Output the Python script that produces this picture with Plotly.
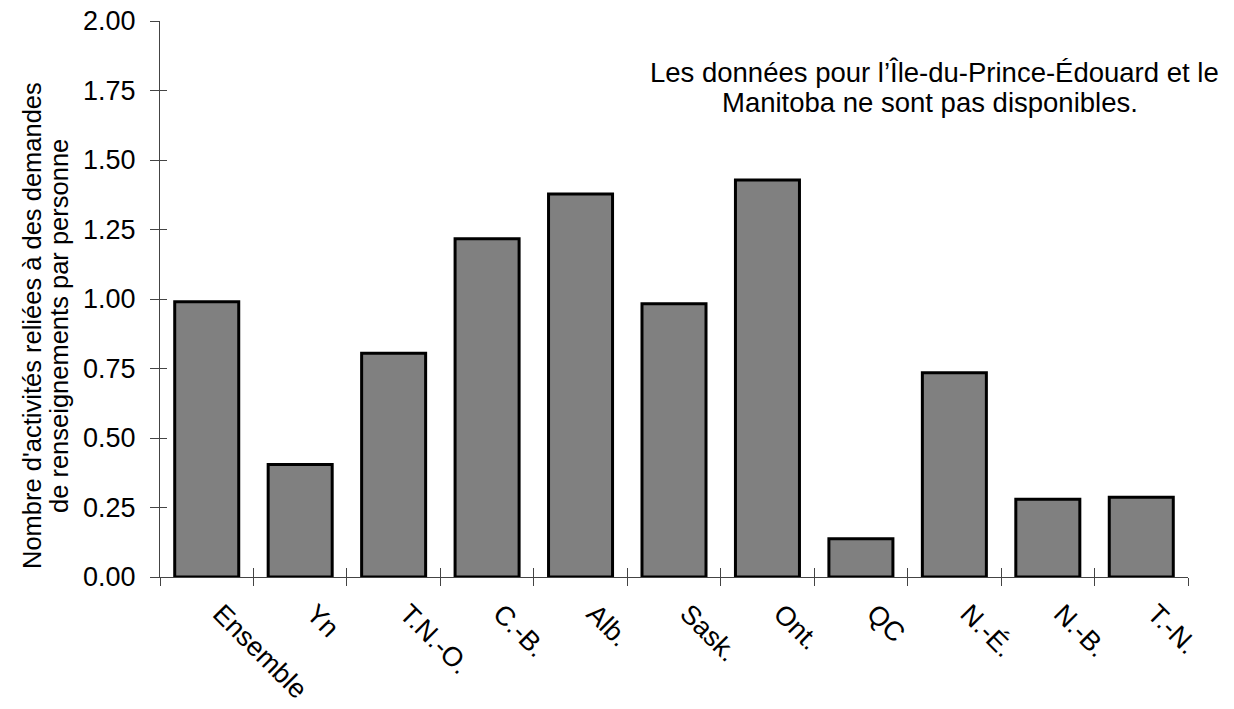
import plotly.graph_objects as go

categories = ["Ensemble", "Yn", "T.N.-O.", "C.-B.", "Alb.", "Sask.", "Ont.", "QC", "N.-É.", "N.-B.", "T.-N."]
values = [0.99, 0.405, 0.805, 1.217, 1.378, 0.983, 1.428, 0.138, 0.735, 0.28, 0.287]
y_ticks = [0, 0.25, 0.5, 0.75, 1.0, 1.25, 1.5, 1.75, 2.0]
y_tick_labels = ["0.00", "0.25", "0.50", "0.75", "1.00", "1.25", "1.50", "1.75", "2.00"]
y_title_lines = ["Nombre d'activités reliées à des demandes", "de renseignements par personne"]
note_lines = ["Les données pour l’Île-du-Prince-Édouard et le", "Manitoba ne sont pas disponibles."]

FONT = "Liberation Sans, Arial, sans-serif"
AXC = "#444444"

L, R, T, B = 160, 46, 21, 132
W, H = 1234, 709
PW, PH = W - L - R, H - T - B

fig = go.Figure()
fig.add_trace(go.Bar(
    x=categories, y=values,
    marker=dict(color="#808080", line=dict(color="black", width=3)),
    hoverinfo="x+y",
))
# invisible trace to carry the overlay axes (inner half of crossing ticks)
fig.add_trace(go.Scatter(x=[-0.5, 10.5], y=[0, 2], xaxis="x2", yaxis="y2",
                         mode="markers", marker=dict(opacity=0), hoverinfo="skip", showlegend=False))

fig.update_layout(
    width=W, height=H, autosize=False,
    margin=dict(l=L, r=R, t=T, b=B, autoexpand=False),
    plot_bgcolor="white", paper_bgcolor="white",
    showlegend=False,
    bargap=0.315,
    font=dict(family=FONT, color="black", size=26),
    xaxis=dict(
        type="category", range=[-0.5, 10.5], tickson="boundaries", automargin=False,
        showline=True, linecolor=AXC, linewidth=1,
        ticks="outside", ticklen=8, tickcolor=AXC, tickwidth=1,
        tickangle=45, tickfont=dict(size=27, family=FONT, color="black"),
        ticklabelshift=14, ticklabelstandoff=9, ticklabeloverflow="allow",
        showgrid=False, zeroline=False, fixedrange=True,
    ),
    yaxis=dict(
        range=[0, 2], tickvals=y_ticks, ticktext=y_tick_labels, automargin=False,
        showline=True, linecolor=AXC, linewidth=1,
        ticks="outside", ticklen=9, tickcolor=AXC, tickwidth=1,
        tickfont=dict(size=27, family=FONT, color="black"),
        ticklabelstandoff=9, ticklabeloverflow="allow",
        showgrid=False, zeroline=False, fixedrange=True,
    ),
    xaxis2=dict(
        overlaying="x", anchor="y2", range=[-0.5, 10.5], automargin=False,
        tickvals=[i - 0.5 for i in range(12)], showticklabels=False,
        ticks="inside", ticklen=9, tickcolor=AXC, tickwidth=1,
        showline=False, showgrid=False, zeroline=False, fixedrange=True,
    ),
    yaxis2=dict(
        overlaying="y", anchor="x2", range=[0, 2.0001], automargin=False,
        tickvals=y_ticks, showticklabels=False,
        ticks="inside", ticklen=7, tickcolor=AXC, tickwidth=1,
        showline=False, showgrid=False, zeroline=False, fixedrange=True,
    ),
)

# y-axis title as two rotated lines
for i, line in enumerate(y_title_lines):
    fig.add_annotation(
        text=line, xref="paper", yref="paper", x=0, y=(H - B - 326) / PH,
        xshift=-(L - 32) + i * 27, xanchor="center", yanchor="middle",
        textangle=-90, showarrow=False, font=dict(size=25.5, family=FONT, color="black"),
    )

# note, one annotation per line for exact line spacing
for i, (line, cx, cy) in enumerate(zip(note_lines, [934, 930], [72, 103])):
    fig.add_annotation(
        text=line, xref="paper", yref="paper",
        x=(cx - L) / PW, y=(H - B - cy) / PH, xanchor="center", yanchor="middle",
        showarrow=False, font=dict(size=27.5, family=FONT, color="black"),
    )

fig.write_html("out.html", config={"displayModeBar": False},
               post_script="document.body.style.margin='0';")
